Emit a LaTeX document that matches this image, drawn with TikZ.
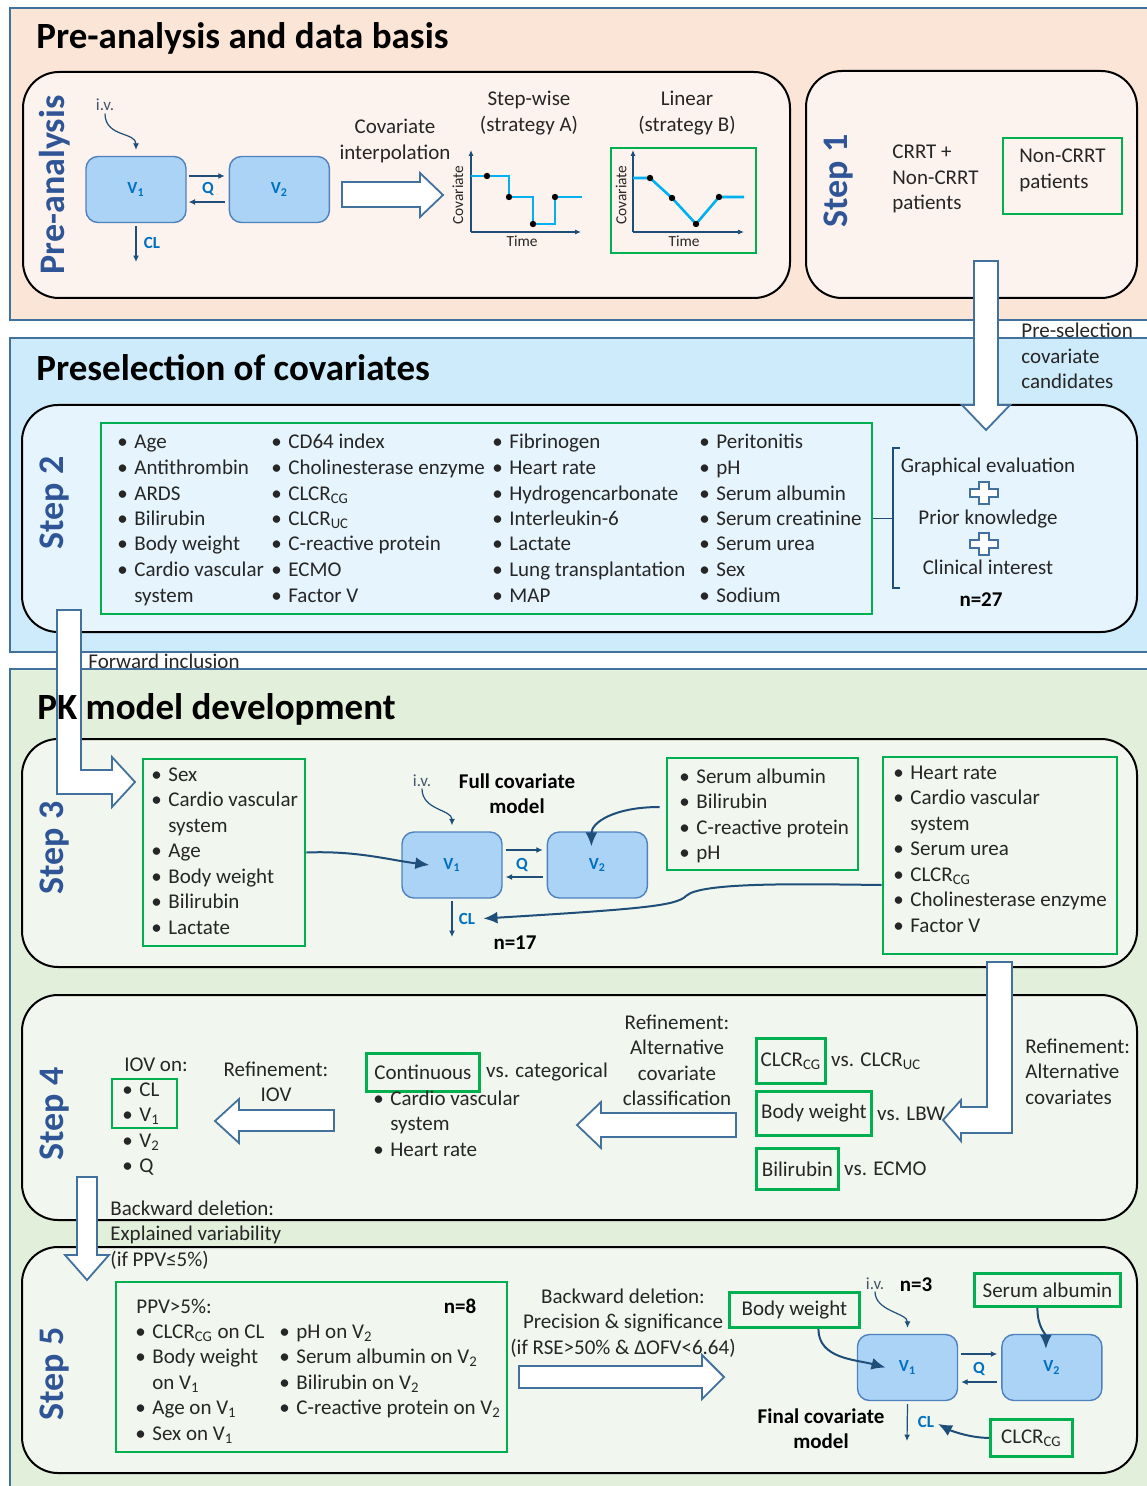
\documentclass[tikz,border=0pt]{standalone}
\usepackage{fontspec}
\setmainfont{Carlito}
\usetikzlibrary{positioning,arrows.meta,fit}

\definecolor{bandPeach}{HTML}{FBE5D6}
\definecolor{panelPeach}{HTML}{FDF3EE}
\definecolor{bandBlue}{HTML}{CDEBFB}
\definecolor{panelBlue}{HTML}{E5F4FD}
\definecolor{bandGreen}{HTML}{E2EFDA}
\definecolor{panelGreen}{HTML}{F1F7EE}
\definecolor{edgeBlue}{HTML}{41719C}
\definecolor{stepBlue}{HTML}{2F5597}
\definecolor{keepGreen}{HTML}{00B050}
\definecolor{cmpFill}{HTML}{ABD3F6}
\definecolor{cmpEdge}{HTML}{4F81BD}
\definecolor{cmpText}{HTML}{0070C0}
\definecolor{linkBlue}{HTML}{1F4E79}
\definecolor{curveCyan}{HTML}{00B0F0}
\definecolor{ivGrey}{HTML}{44546A}
\definecolor{txt}{HTML}{262626}

\newcommand{\covitem}{\makebox[8.5pt][l]{\textbullet}}
\newcommand{\covcont}{\hspace*{8.5pt}}
\newcommand{\leftstack}[1]{\begin{tabular}[t]{@{}l@{}}#1\end{tabular}}
\newcommand{\midstack}[1]{\begin{tabular}[t]{@{}c@{}}#1\end{tabular}}

\begin{document}
\begin{tikzpicture}[x=0.5pt,y=-0.5pt,
  every node/.style={inner sep=0pt, text=txt, font=\fontsize{10.5}{12.75}\selectfont},
  band/.style={draw=edgeBlue, line width=0.8pt},
  panel/.style={draw=black, line width=1pt, rounded corners=18pt},
  heading/.style={anchor=base west, text=black, font=\fontsize{18.5}{22}\selectfont\bfseries},
  steptag/.style={anchor=base, rotate=90, text=stepBlue, font=\fontsize{18}{20}\selectfont\bfseries},
  keep/.style={draw=keepGreen, line width=1.4pt},
  cmp/.style={draw=cmpEdge, fill=cmpFill, line width=0.7pt, rounded corners=6pt,
    minimum width=50pt, minimum height=33pt, text=cmpText, font=\fontsize{8.5}{10}\selectfont\bfseries},
  cmplbl/.style={text=cmpText, font=\fontsize{8.5}{10}\selectfont\bfseries},
  ivtxt/.style={text=ivGrey, font=\fontsize{8.5}{10}\selectfont},
  axistxt/.style={font=\fontsize{7.7}{9}\selectfont},
  boldtxt/.style={anchor=base, text=black, font=\fontsize{10.5}{12.75}\selectfont\bfseries},
  axisline/.style={draw=linkBlue, line width=0.6pt, -{Latex[length=3pt,width=2.6pt]}},
  trend/.style={draw=curveCyan, line width=1.3pt},
  link/.style={draw=linkBlue, line width=1pt, -{Latex[length=7pt,width=6pt]}},
  flux/.style={draw=linkBlue, line width=0.6pt, -{Latex[length=3.2pt,width=3pt]}},
  bigarrow/.style={draw=edgeBlue, fill=white, line width=0.9pt},
  plussign/.style={draw=edgeBlue, fill=white, line width=0.9pt},
  bracket/.style={draw=linkBlue, line width=0.9pt},
]
\useasboundingbox (0,0) rectangle (1146,1486);

% bands and panels
\draw[band, fill=bandPeach] (10,8) rectangle (1160,320);
\draw[band, fill=bandBlue] (10,338) rectangle (1160,652);
\draw[band, fill=bandGreen] (10,669) rectangle (1160,1500);

\draw[panel, fill=panelPeach] (23,72) rectangle (790,298);
\draw[panel, fill=panelPeach] (806,71) rectangle (1137,298);
\draw[panel, fill=panelBlue] (22,405) rectangle (1137,632);
\draw[panel, fill=panelGreen] (22,739) rectangle (1137,967);
\draw[panel, fill=panelGreen] (22,995) rectangle (1137,1220);
\draw[panel, fill=panelGreen] (22,1247) rectangle (1137,1473);

\node[steptag] (tagPre) at (64,185) {Pre-analysis};
\node[steptag] (tagOne) at (847,181) {Step 1};
\node[steptag] (tagTwo) at (63,503) {Step 2};
\node[steptag] (tagThree) at (63,848) {Step 3};
\node[steptag] (tagFour) at (63,1114) {Step 4};
\node[steptag] (tagFive) at (63,1374) {Step 5};

% pre-analysis
\node[cmp] (V1a) at (136,189.5) {V\textsubscript{1}};
\node[cmp, right=21pt of V1a] (V2a) {V\textsubscript{2}};
\node[cmplbl] (Qa) at (208,189) {Q};
\node[cmplbl] (CLa) at (152,243) {CL};
\node[ivtxt, anchor=base] (ivA) at (105,111) {i.v.};
\coordinate (clEndA) at (136,262);
\draw[flux] ([xshift=1pt,yshift=6.75pt]V1a.east) -- ([xshift=-2pt,yshift=6.75pt]V2a.west);
\draw[flux] ([xshift=-2pt,yshift=-6.25pt]V2a.west) -- ([xshift=1pt,yshift=-6.25pt]V1a.east);
\draw[flux] ([yshift=-1.5pt]V1a.south) -- (clEndA);
\draw[flux] ([yshift=-1pt]ivA.south) .. controls +(0,24) and +(0,-18) .. ([yshift=3pt]V1a.north);

\node[anchor=base] (interpTxt) at (395,134) {\midstack{Covariate\\interpolation}};
\draw[bigarrow] (342,182) -- (420,182) -- (420,173) -- (443,195) -- (420,217) -- (420,207) -- (342,207) -- cycle;

\node[anchor=base] (stratA) at (529,106) {\midstack{Step-wise\\(strategy A)}};
\draw[axisline] (471,232) -- (471,150);
\draw[axisline] (471,232) -- (581,232);
\draw[trend] (471,176) -| (509,197) -| (533,224) -| (555,197) -- (582,197);
\foreach \pt in {(487,176),(509,197),(533,224),(555,197)} \fill \pt circle[radius=1.6pt];
\node[axistxt, rotate=90] (covLabA) at (458,195) {Covariate};
\node[axistxt] (timeLabA) at (522,241) {Time};

\node[keep, fit={(611,148) (756,253)}] (linBox) {};
\node[anchor=base] (stratB) at (687,106) {\midstack{Linear\\(strategy B)}};
\draw[axisline] (633,232) -- (633,150);
\draw[axisline] (633,232) -- (744,232);
\draw[trend] (633,178) -- (650,178) -- (672,198) -- (696,224) -- (719,197) -- (744,197);
\foreach \pt in {(650,178),(672,198),(696,224),(719,197)} \fill \pt circle[radius=1.6pt];
\node[axistxt, rotate=90] (covLabB) at (621,195) {Covariate};
\node[axistxt] (timeLabB) at (684,241) {Time};

% step 1
\node[anchor=base west] (allPat) at (892,159) {\leftstack{CRRT +\\Non-CRRT\\patients}};
\node[keep, fit={(1003,138) (1122,214)}] (nonCrrtBox) {};
\node[anchor=base west] (nonCrrt) at (1019,163) {\leftstack{Non-CRRT\\patients}};

% step 2
\node[keep, fit={(101,423) (872,614)}] (candBox) {};
\node[anchor=base west] (candA) at (117,449) {\leftstack{\covitem Age\\ \covitem Antithrombin\\ \covitem ARDS\\ \covitem Bilirubin\\ \covitem Body weight\\ \covitem Cardio vascular\\ \covcont system}};
\node[anchor=base west] (candB) at (271,449) {\leftstack{\covitem CD64 index\\ \covitem Cholinesterase enzyme\\ \covitem CLCR\textsubscript{CG}\\ \covitem CLCR\textsubscript{UC}\\ \covitem C-reactive protein\\ \covitem ECMO\\ \covitem Factor V}};
\node[anchor=base west] (candC) at (492,449) {\leftstack{\covitem Fibrinogen\\ \covitem Heart rate\\ \covitem Hydrogencarbonate\\ \covitem Interleukin-6\\ \covitem Lactate\\ \covitem Lung transplantation\\ \covitem MAP}};
\node[anchor=base west] (candD) at (699,449) {\leftstack{\covitem Peritonitis\\ \covitem pH\\ \covitem Serum albumin\\ \covitem Serum creatinine\\ \covitem Serum urea\\ \covitem Sex\\ \covitem Sodium}};

\coordinate (brkMid) at (893,518.5);
\draw[bracket] (candBox.east) -- (brkMid);
\draw[bracket] (900,448) -- (893,448) -- (893,588) -- (900,588);
\node[anchor=base] (graphEval) at (988,473) {Graphical evaluation};
\node[anchor=base] (priorKn) at (988,524) {Prior knowledge};
\node[anchor=base] (clinInt) at (988,574) {Clinical interest};
\node[boldtxt] (nTwo) at (981,606) {n=27};
\foreach \cy in {493,544}
  \draw[plussign] (979,\cy-11) -- ++(10,0) -- ++(0,7) -- ++(9,0) -- ++(0,8) -- ++(-9,0) -- ++(0,7) -- ++(-10,0) -- ++(0,-7) -- ++(-9,0) -- ++(0,-8) -- ++(9,0) -- cycle;

\draw[bigarrow] (974,261) -- (998,261) -- (998,405) -- (1010,405) -- (986,430) -- (962,405) -- (974,405) -- cycle;
\node[anchor=base west] (preSel) at (1021,338) {\leftstack{Pre-selection\\covariate\\candidates}};

\draw[bigarrow] (57,610) -- (81,610) -- (81,770) -- (112,770) -- (112,757) -- (135,782) -- (112,807) -- (112,794) -- (57,794) -- cycle;
\node[anchor=base west] (fwdTxt) at (88,668) {Forward inclusion};

% step 3
\node[keep, fit={(143,759) (305,946)}] (covA) {};
\node[anchor=base west] (covAList) at (151,781) {\leftstack{\covitem Sex\\ \covitem Cardio vascular\\ \covcont system\\ \covitem Age\\ \covitem Body weight\\ \covitem Bilirubin\\ \covitem Lactate}};
\node[keep, fit={(667,758) (858,870)}] (covB) {};
\node[anchor=base west] (covBList) at (679,783) {\leftstack{\covitem Serum albumin\\ \covitem Bilirubin\\ \covitem C-reactive protein\\ \covitem pH}};
\node[keep, fit={(883,757) (1117,954)}] (covC) {};
\node[anchor=base west] (covCList) at (893,779) {\leftstack{\covitem Heart rate\\ \covitem Cardio vascular\\ \covcont system\\ \covitem Serum urea\\ \covitem CLCR\textsubscript{CG}\\ \covitem Cholinesterase enzyme\\ \covitem Factor V}};

\node[cmp] (V1s) at (452,865) {V\textsubscript{1}};
\node[cmp, right=22pt of V1s] (V2s) {V\textsubscript{2}};
\node[cmplbl] (Qs) at (522,865) {Q};
\node[cmplbl] (CLs) at (467,919) {CL};
\node[ivtxt, anchor=base] (ivS) at (422,786) {i.v.};
\node[boldtxt] (fullMod) at (517,788) {\midstack{Full covariate\\model}};
\node[boldtxt] (nThree) at (515,949) {n=17};
\coordinate (clEndS) at (452,937);
\draw[flux] ([xshift=1.5pt,yshift=7.5pt]V1s.east) -- ([xshift=-2pt,yshift=7.5pt]V2s.west);
\draw[flux] ([xshift=-2pt,yshift=-6pt]V2s.west) -- ([xshift=1.5pt,yshift=-6pt]V1s.east);
\draw[flux] ([yshift=-1pt]V1s.south) -- (clEndS);
\draw[flux] ([yshift=-1pt]ivS.south) .. controls +(0,22) and +(0,-16) .. ([yshift=3pt]V1s.north);
\draw[link] (covA.east) .. controls +(50,-2) and +(-40,-5) .. ([xshift=14pt]V1s.west);
\draw[link] ([xshift=-3pt,yshift=3.5pt]covB.west) .. controls +(-45,0) and +(0,-24) .. ([xshift=-3pt,yshift=-7.5pt]V2s.north);
\draw[link, shorten >=4pt] ([yshift=-14.75pt]covC.west) .. controls (800,884) and (700,882) .. (686,896) .. controls (676,906) and (640,909) .. (CLs.east);

\draw[bigarrow] (987,962) -- (1012,962) -- (1012,1133) -- (961,1133) -- (961,1141) -- (943,1120) -- (961,1100) -- (961,1107) -- (987,1107) -- cycle;

% step 4
\node[anchor=base west] (refAlt) at (1025,1053) {\leftstack{Refinement:\\Alternative\\covariates}};
\node[keep, minimum width=34.5pt, minimum height=22.5pt, anchor=north west] (clcrK) at (755,1037) {CLCR\textsubscript{CG}};
\node[anchor=west, right=2pt of clcrK] (vsUC) {vs. CLCR\textsubscript{UC}};
\node[keep, minimum width=57.5pt, minimum height=22pt, anchor=north west] (bwK) at (755,1090) {Body weight};
\node[anchor=west, right=2pt of bwK] (vsLBW) {vs. LBW};
\node[keep, minimum width=41pt, minimum height=20.5pt, anchor=north west] (biliK) at (755,1147) {Bilirubin};
\node[anchor=west, right=2pt of biliK] (vsECMO) {vs. ECMO};

\node[anchor=base] (refClass) at (677,1029) {\midstack{Refinement:\\Alternative\\covariate\\classification}};
\draw[bigarrow] (736,1113) -- (601,1113) -- (601,1102) -- (577,1125) -- (601,1148) -- (601,1137) -- (736,1137) -- cycle;

\node[keep, minimum width=56.5pt, minimum height=19pt, anchor=north west] (contK) at (365,1052) {Continuous};
\node[anchor=west, right=2.5pt of contK] (vsCat) {vs. categorical};
\node[anchor=base west] (catList) at (373,1105) {\leftstack{\covitem Cardio vascular\\ \covcont system\\ \covitem Heart rate}};

\node[anchor=base] (refIOV) at (276,1076) {\midstack{Refinement:\\IOV}};
\draw[bigarrow] (334,1110) -- (239,1110) -- (239,1099) -- (215,1121) -- (239,1143) -- (239,1131) -- (334,1131) -- cycle;

\node[anchor=base west] (iovOn) at (124,1071) {IOV on:};
\node[anchor=base west] (iovList) at (122,1096) {\leftstack{\covitem CL\\ \covitem V\textsubscript{1}\\ \covitem V\textsubscript{2}\\ \covitem Q}};
\node[keep, fit={(112,1079) (177,1128)}] (iovK) {};

\draw[bigarrow] (77,1177) -- (97,1177) -- (97,1255) -- (109,1255) -- (87,1280) -- (65,1255) -- (77,1255) -- cycle;
\node[anchor=base west] (bwdOne) at (110,1215) {\leftstack{Backward deletion:\\Explained variability\\(if PPV≤5\%)}};

% step 5
\node[keep, fit={(116,1282) (507,1452)}] (ppvBox) {};
\node[anchor=base west] (ppvTxt) at (136,1313) {PPV>5\%:};
\node[boldtxt] (nEight) at (460,1313) {n=8};
\node[anchor=base west] (ppvA) at (135,1338) {\leftstack{\covitem CLCR\textsubscript{CG} on CL\\ \covitem Body weight\\ \covcont on V\textsubscript{1}\\ \covitem Age on V\textsubscript{1}\\ \covitem Sex on V\textsubscript{1}}};
\node[anchor=base west] (ppvB) at (279,1338) {\leftstack{\covitem pH on V\textsubscript{2}\\ \covitem Serum albumin on V\textsubscript{2}\\ \covitem Bilirubin on V\textsubscript{2}\\ \covitem C-reactive protein on V\textsubscript{2}}};

\node[anchor=base] (bwdTwo) at (623,1303) {\midstack{Backward deletion:\\Precision \& significance\\(if RSE>50\% \& ΔOFV<6.64)}};
\draw[bigarrow] (519,1366) -- (702,1366) -- (702,1355) -- (724,1377) -- (702,1399) -- (702,1388) -- (519,1388) -- cycle;

\node[cmp] (V1f) at (907.5,1367.5) {V\textsubscript{1}};
\node[cmp, right=21.5pt of V1f] (V2f) {V\textsubscript{2}};
\node[cmplbl] (Qf) at (979,1369) {Q};
\node[cmplbl] (CLf) at (926,1422) {CL};
\node[ivtxt, anchor=base] (ivF) at (875,1289) {i.v.};
\node[boldtxt] (nFinal) at (916,1291) {n=3};
\node[boldtxt] (finalMod) at (821,1423) {\midstack{Final covariate\\model}};
\node[keep, minimum width=65pt, minimum height=17.5pt, anchor=north west] (bwF) at (728,1291) {Body weight};
\node[keep, minimum width=73pt, minimum height=16.5pt, anchor=north west] (saF) at (973,1272) {Serum albumin};
\node[keep, minimum width=41pt, minimum height=18.5pt, anchor=north west] (clcrF) at (989,1418) {CLCR\textsubscript{CG}};
\coordinate (clEndF) at (907,1441);
\draw[flux] ([xshift=1.5pt,yshift=6.75pt]V1f.east) -- ([xshift=-2pt,yshift=6.75pt]V2f.west);
\draw[flux] ([xshift=-2pt,yshift=-7.25pt]V2f.west) -- ([xshift=1.5pt,yshift=-7.25pt]V1f.east);
\draw[flux] ([yshift=-1.5pt]V1f.south) -- (clEndF);
\draw[flux] ([yshift=-1pt]ivF.south) .. controls +(0,20) and +(0,-15) .. ([yshift=3pt]V1f.north);
\draw[link] ([xshift=12pt]bwF.south) .. controls +(0,30) and +(-30,-8) .. ([xshift=-11pt]V1f.center);
\draw[link] ([xshift=-5pt]saF.south) .. controls +(0,20) and +(0,-15) .. ([xshift=-3pt,yshift=-7.5pt]V2f.north);
\draw[link, shorten >=2pt] (clcrF.west) .. controls +(-20,0) and +(15,8) .. (CLf.east);

% headings
\node[heading] (headA) at (36,49) {Pre-analysis and data basis};
\node[heading] (headB) at (36,381) {Preselection of covariates};
\node[heading] (headC) at (37,719) {PK model development};
\end{tikzpicture}
\end{document}
